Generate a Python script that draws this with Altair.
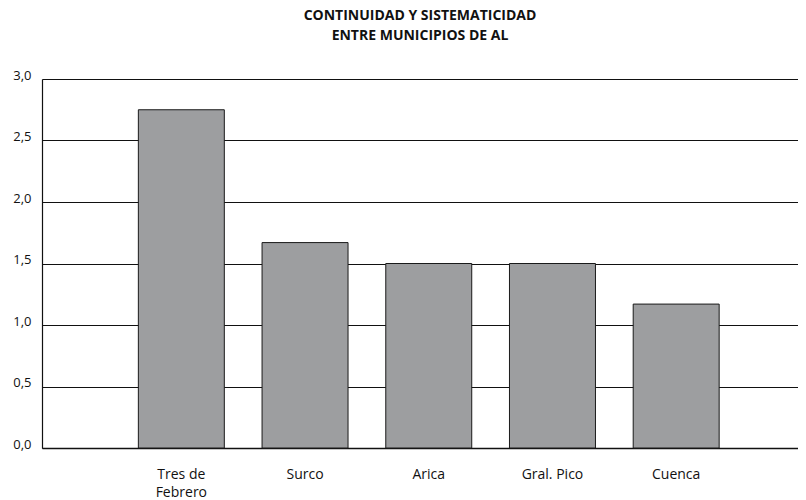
import altair as alt
import pandas as pd

categories = ["Tres de Febrero", "Surco", "Arica", "Gral. Pico", "Cuenca"]
values = [2.75, 1.67, 1.5, 1.5, 1.17]
y_ticks = [0, 0.5, 1.0, 1.5, 2.0, 2.5, 3.0]

df = pd.DataFrame({"municipio": categories, "valor": values})

FONT = "Open Sans"

chart = alt.Chart(df).mark_bar(
    color="#9d9ea0", stroke="#1a1a1a", strokeWidth=1
).encode(
    x=alt.X(
        "municipio:N",
        sort=categories,
        title=None,
        scale=alt.Scale(paddingInner=0.305, paddingOuter=0.708, align=0.55),
        axis=alt.Axis(
            labelAngle=0,
            ticks=False,
            domain=True,
            domainColor="#111111",
            domainWidth=1.5,
            labelPadding=19,
            labelFont=FONT,
            labelFontSize=14,
            labelColor="#111111",
            labelLineHeight=18,
            labelExpr="datum.label == 'Tres de Febrero' ? ['Tres de', 'Febrero'] : datum.label",
        ),
    ),
    y=alt.Y(
        "valor:Q",
        title=None,
        scale=alt.Scale(domain=[0, 3], nice=False),
        axis=alt.Axis(
            values=y_ticks,
            grid=True,
            gridColor="#111111",
            gridWidth=1,
            ticks=False,
            domain=True,
            domainColor="#111111",
            domainWidth=1.2,
            labelPadding=11,
            labelOffset=-4,
            labelFont=FONT,
            labelFontSize=13,
            labelColor="#111111",
            labelExpr="replace(format(datum.value, '.1f'), '.', ',')",
        ),
    ),
).properties(
    width=756,
    height=369,
    title=alt.Title(
        ["CONTINUIDAD Y SISTEMATICIDAD", "ENTRE MUNICIPIOS DE AL"],
        font=FONT,
        fontSize=14,
        fontWeight="bold",
        color="#111111",
        lineHeight=20,
        anchor="middle",
        offset=26,
    ),
    autosize=alt.AutoSizeParams(type="none"),
    padding={"left": 34, "top": 71, "right": 0, "bottom": 50},
).configure_view(
    stroke=None
).configure(
    background="white"
)

chart.save("out.html", embed_options={"renderer": "svg", "actions": False})
